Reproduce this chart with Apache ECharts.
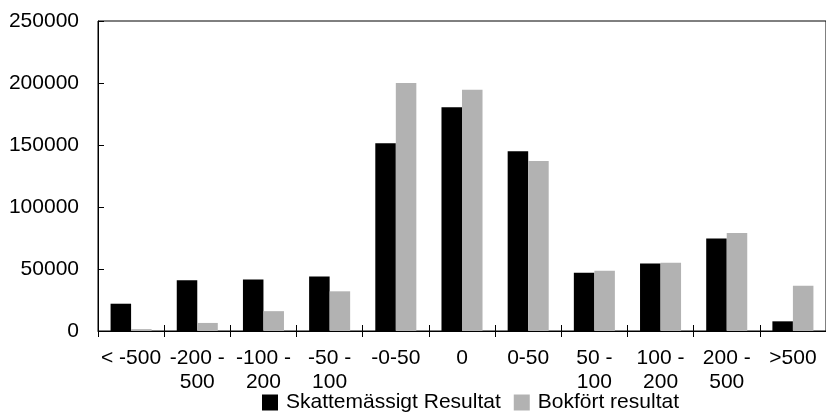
<!DOCTYPE html>
<html>
<head>
<meta charset="utf-8">
<script src="https://cdn.jsdelivr.net/npm/echarts@6/dist/echarts.min.js"></script>
<style>
html,body{margin:0;padding:0;background:#fff;}
#c{width:826px;height:412px;}
</style>
</head>
<body>
<div id="c"></div>
<script>
const categories = ["< -500", "-200 -\n500", "-100 -\n200", "-50 -\n100", "-0-50", "0", "0-50", "50 -\n100", "100 -\n200", "200 -\n500", ">500"];
const skattemassigt = [22000, 41000, 41500, 44000, 151500, 180500, 145000, 47000, 54500, 74500, 7800];
const bokfort = [1500, 6500, 16000, 32000, 200000, 194500, 137000, 48500, 55000, 79000, 36500];
const yTicks = [0, 50000, 100000, 150000, 200000, 250000];

const FONT = '"Liberation Sans", Arial, sans-serif';
const chart = echarts.init(document.getElementById('c'), null, {renderer: 'canvas'});
chart.setOption({
  animation: false,
  backgroundColor: '#fff',
  textStyle: {fontFamily: FONT, color: '#000'},
  grid: {
    left: 98, top: 21, width: 735, height: 310,
    show: true, borderColor: '#000', borderWidth: 1, backgroundColor: 'transparent'
  },
  legend: {
    left: 257, top: 387,
    itemWidth: 16, itemHeight: 16, itemGap: 13,
    icon: 'rect',
    textStyle: {fontFamily: FONT, fontSize: 21, color: '#000', padding: [0, 0, 0, 3]},
    data: ['Skattemässigt Resultat', 'Bokfört resultat']
  },
  xAxis: [{
    type: 'category',
    data: categories,
    position: 'bottom',
    axisLine: {show: true, lineStyle: {color: '#000', width: 1}},
    axisTick: {show: true, inside: false, length: 6, lineStyle: {color: '#000'}},
    axisLabel: {fontFamily: FONT, fontSize: 21, color: '#000', margin: 15, lineHeight: 24, interval: 0, align: 'center'},
    splitLine: {show: false}
  }, {
    type: 'category',
    data: categories,
    position: 'bottom',
    axisLine: {show: false},
    axisTick: {show: true, inside: true, length: 6, lineStyle: {color: '#000'}},
    axisLabel: {show: false},
    splitLine: {show: false}
  }],
  yAxis: {
    type: 'value',
    min: yTicks[0], max: yTicks[yTicks.length - 1], interval: yTicks[1] - yTicks[0],
    axisLine: {show: true, lineStyle: {color: '#000', width: 1}},
    axisTick: {show: true, inside: true, length: 6, lineStyle: {color: '#000'}},
    axisLabel: {fontFamily: FONT, fontSize: 21, color: '#000', margin: 19, formatter: function (v) { return String(v); }},
    splitLine: {show: false}
  },
  series: [{
    name: 'Skattemässigt Resultat',
    type: 'bar',
    xAxisIndex: 0,
    data: skattemassigt,
    itemStyle: {color: '#000000'},
    barGap: '0%',
    barCategoryGap: '38%'
  }, {
    name: 'Bokfört resultat',
    type: 'bar',
    xAxisIndex: 0,
    data: bokfort,
    itemStyle: {color: '#b2b2b2'},
    barGap: '0%',
    barCategoryGap: '38%'
  }]
});
</script>
</body>
</html>
